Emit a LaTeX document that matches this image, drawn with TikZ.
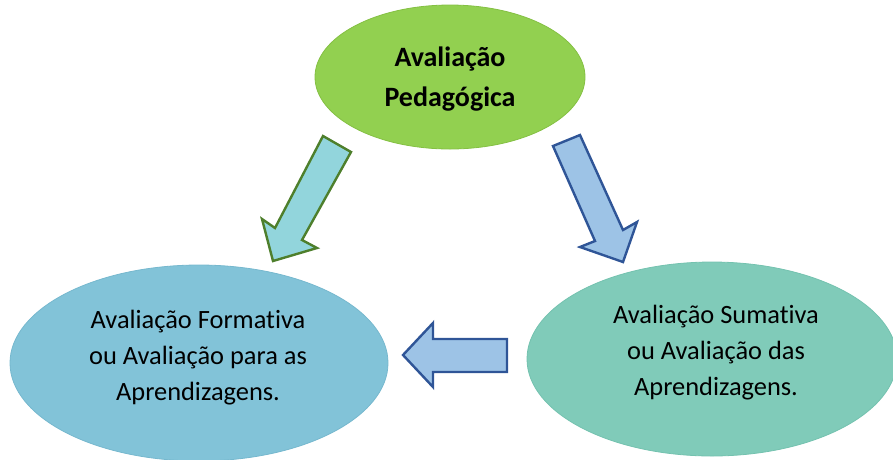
\documentclass[tikz,border=0pt]{standalone}
\usepackage{fontspec}
\setmainfont{Carlito}[Ligatures={NoCommon}]
\usetikzlibrary{shapes.geometric}
\definecolor{topgreen}{HTML}{92D050}
\definecolor{topedge}{HTML}{84C043}
\definecolor{leftblue}{HTML}{82C3D8}
\definecolor{leftedge}{HTML}{76B8CE}
\definecolor{rightteal}{HTML}{80CBB9}
\definecolor{rightedge}{HTML}{74C2AF}
\definecolor{cyanfill}{HTML}{92D5DC}
\definecolor{greenedge}{HTML}{4E7F2C}
\definecolor{bluefill}{HTML}{9DC3E6}
\definecolor{blueedge}{HTML}{2F5597}
\tikzset{
  blob/.style={ellipse, inner sep=0pt, line width=0.8pt},
  txt/.style={align=center, inner sep=0pt, text=black},
  greenarrow/.style={fill=cyanfill, draw=greenedge, line width=2.4pt, line join=miter},
  bluearrow/.style={fill=bluefill, draw=blueedge, line width=2.4pt, line join=miter},
}
\begin{document}
\begin{tikzpicture}[x=1pt,y=-1pt]
\useasboundingbox (0,0) rectangle (893,459);
\clip (0,0) rectangle (893,459);
% ellipses
\node[blob, fill=topgreen, draw=topedge, minimum width=270pt, minimum height=144pt] (top) at (450,77) {};
\node[blob, fill=leftblue, draw=leftedge, minimum width=378pt, minimum height=196pt] (left) at (199,363) {};
\node[blob, fill=rightteal, draw=rightedge, minimum width=370pt, minimum height=194pt] (right) at (712,359) {};
% texts
\node[txt, font=\fontsize{28}{40}\selectfont\bfseries] (toptext) at (450,79) {Avaliação\\Pedagógica};
\node[txt, font=\fontsize{26.4}{36}\selectfont] (lefttext) at (198,358) {Avaliação Formativa\\ou Avaliação para as\\Aprendizagens.};
\node[txt, font=\fontsize{26.4}{36}\selectfont] (righttext) at (716,353) {Avaliação Sumativa\\ou Avaliação das\\Aprendizagens.};
% block arrows
\draw[greenarrow] (323,136) -- (351,152) -- (302,240) -- (317,248) -- (273,261) -- (262,219) -- (275,228) -- cycle;
\draw[bluearrow] (553,146) -- (580,135) -- (623,230) -- (637,222) -- (623,262) -- (580,247) -- (595,241) -- cycle;
\draw[bluearrow] (403,355) -- (433,323) -- (433,339) -- (507,339) -- (507,372) -- (433,372) -- (433,387) -- cycle;
\end{tikzpicture}
\end{document}
